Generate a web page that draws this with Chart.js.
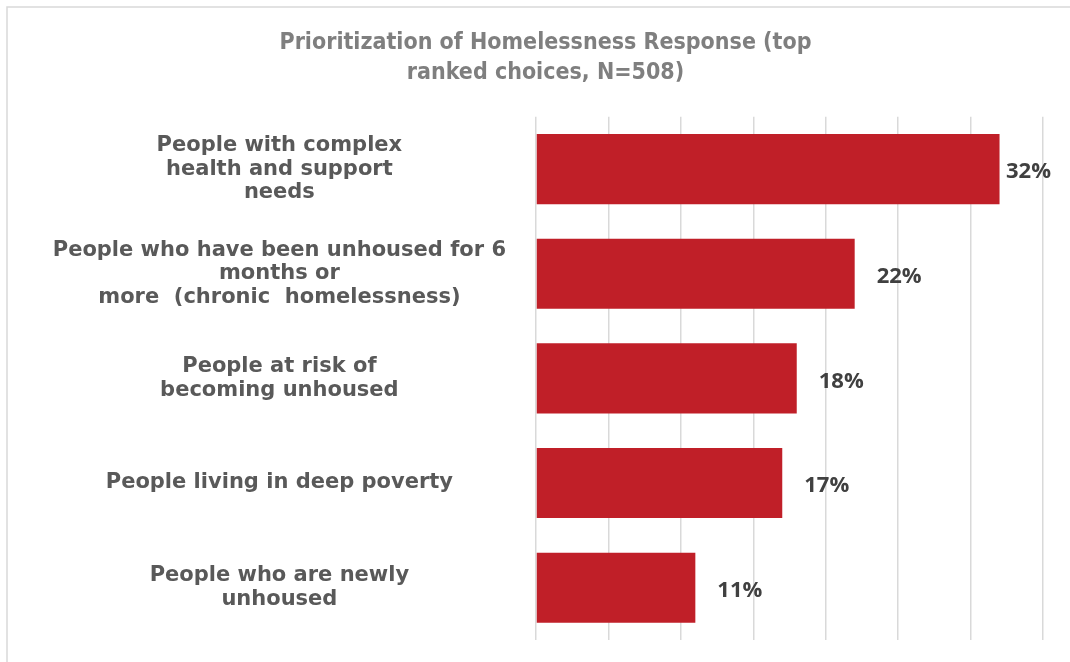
<!DOCTYPE html>
<html>
<head>
<meta charset="utf-8">
<script src="https://cdn.jsdelivr.net/npm/chart.js@4.4.1/dist/chart.umd.min.js"></script>
<style>
  html, body { margin: 0; padding: 0; background: #fff; }
  canvas { display: block; }
</style>
</head>
<body>
<canvas id="priorityChart" width="1070" height="662"></canvas>
<script>
const titleLines = ["Prioritization of Homelessness Response (top", "ranked choices, N=508)"];

const categories = [
  ["People with complex", "health and support", "needs"],
  ["People who have been unhoused for 6", "months or", "more  (chronic  homelessness)"],
  ["People at risk of", "becoming unhoused"],
  "People living in deep poverty",
  ["People who are newly", "unhoused"],
];

const shares = [32, 22, 18, 17, 11];

const axisMax = 35;
const axisStep = 5;

const barRed = "#c01f28";

// white background plus the thin grey frame along the top and left edges
const framePlugin = {
  id: "frame",
  beforeDraw(chart) {
    const { ctx, width, height } = chart;
    ctx.save();
    ctx.fillStyle = "#ffffff";
    ctx.fillRect(0, 0, width, height);
    ctx.strokeStyle = "#d9d9d9";
    ctx.lineWidth = 1.5;
    ctx.beginPath();
    ctx.moveTo(7, height);
    ctx.lineTo(7, 7);
    ctx.lineTo(width, 7);
    ctx.stroke();
    ctx.restore();
  },
};

// percentage text to the right of each bar
const valueLabels = {
  id: "valueLabels",
  afterDatasetsDraw(chart) {
    const { ctx } = chart;
    const meta = chart.getDatasetMeta(0);
    ctx.save();
    ctx.font = "bold 22px 'Open Sans'";
    ctx.fillStyle = "#404040";
    ctx.textBaseline = "middle";
    ctx.textAlign = "left";
    meta.data.forEach((bar, i) => {
      const text = shares[i] + "%";
      const w = ctx.measureText(text).width;
      const x = Math.min(bar.x + 22, chart.width - 19 - w);
      ctx.fillText(text, x, bar.y + 3);
    });
    ctx.restore();
  },
};

const ctx = document.getElementById("priorityChart");

new Chart(ctx, {
  type: "bar",
  data: {
    labels: categories,
    datasets: [
      {
        data: shares,
        backgroundColor: barRed,
        borderWidth: 0,
        categoryPercentage: 1,
        barPercentage: 0.67,
      },
    ],
  },
  options: {
    indexAxis: "y",
    responsive: false,
    animation: false,
    layout: {
      padding: { top: 0, left: 48, right: 27, bottom: 22 },
    },
    scales: {
      x: {
        min: 0,
        max: axisMax,
        ticks: { display: false, stepSize: axisStep },
        grid: { color: "#d9d9d9", lineWidth: 1.5, drawTicks: false },
        border: { display: false },
      },
      y: {
        grid: { display: false, drawTicks: false },
        border: { display: false },
        ticks: {
          crossAlign: "center",
          padding: 30,
          color: "#595959",
          font: { family: "'DejaVu Sans'", size: 21, weight: "bold", lineHeight: 1.12 },
        },
        afterFit(scale) {
          scale.width = 488;
          // labels sit inside the bands, so no extra room above/below the plot
          scale.paddingTop = 0;
          scale.paddingBottom = 0;
        },
      },
    },
    plugins: {
      legend: { display: false },
      tooltip: { enabled: false },
      title: {
        display: true,
        text: titleLines,
        color: "#7f7f7f",
        font: { family: "'DejaVu Sans Condensed'", size: 23, weight: "bold", lineHeight: 1.3 },
        padding: { top: 28, bottom: 29 },
      },
    },
  },
  plugins: [framePlugin, valueLabels],
});
</script>
</body>
</html>
